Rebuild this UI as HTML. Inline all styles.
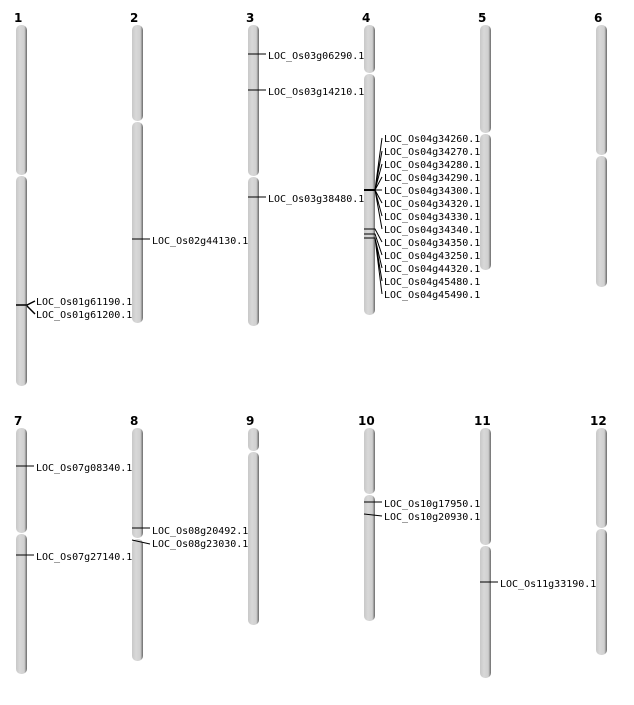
<!DOCTYPE html>
<html><head><meta charset="utf-8"><style>
html,body{margin:0;padding:0;background:#fff;}
svg text{font-family:"DejaVu Sans Mono","Liberation Mono",monospace;font-size:10px;fill:#000;}
svg text.h{font-family:"DejaVu Sans","Liberation Sans",sans-serif;font-weight:bold;font-size:12px;}
</style></head><body>
<svg width="634" height="700" xmlns="http://www.w3.org/2000/svg">
<defs>
<linearGradient id="g" x1="0" x2="1" y1="0" y2="0">
<stop offset="0" stop-color="#c8c8c8"/><stop offset="0.35" stop-color="#d8d8d8"/><stop offset="0.75" stop-color="#d0d0d0"/><stop offset="1" stop-color="#6a6a6a"/>
</linearGradient>
</defs>
<g fill="url(#g)">
<!-- row 1 -->
<rect x="16" y="25" width="11" height="150" rx="5"/><rect x="16" y="176" width="11" height="210" rx="5"/>
<rect x="132" y="25" width="11" height="96" rx="5"/><rect x="132" y="122" width="11" height="201" rx="5"/>
<rect x="248" y="25" width="11" height="151" rx="5"/><rect x="248" y="177" width="11" height="149" rx="5"/>
<rect x="364" y="25" width="11" height="48" rx="5"/><rect x="364" y="74" width="11" height="241" rx="5"/>
<rect x="480" y="25" width="11" height="108" rx="5"/><rect x="480" y="134" width="11" height="136" rx="5"/>
<rect x="596" y="25" width="11" height="130" rx="5"/><rect x="596" y="156" width="11" height="131" rx="5"/>
<!-- row 2 -->
<rect x="16" y="428" width="11" height="105" rx="5"/><rect x="16" y="534" width="11" height="140" rx="5"/>
<rect x="132" y="428" width="11" height="110" rx="5"/><rect x="132" y="539" width="11" height="122" rx="5"/>
<rect x="248" y="428" width="11" height="23" rx="5"/><rect x="248" y="452" width="11" height="173" rx="5"/>
<rect x="364" y="428" width="11" height="66" rx="5"/><rect x="364" y="495" width="11" height="126" rx="5"/>
<rect x="480" y="428" width="11" height="117" rx="5"/><rect x="480" y="546" width="11" height="132" rx="5"/>
<rect x="596" y="428" width="11" height="100" rx="5"/><rect x="596" y="529" width="11" height="126" rx="5"/>
</g>
<text class="h" x="14" y="22">1</text><text class="h" x="130" y="22">2</text><text class="h" x="246" y="22">3</text><text class="h" x="362" y="22">4</text><text class="h" x="478" y="22">5</text><text class="h" x="594" y="22">6</text>
<text class="h" x="14" y="425">7</text><text class="h" x="130" y="425">8</text><text class="h" x="246" y="425">9</text><text class="h" x="358" y="425">10</text><text class="h" x="474" y="425">11</text><text class="h" x="590" y="425">12</text>
<g stroke="#000" stroke-width="1" fill="none">
<path d="M16 305H27L35 301M27 306L35 314" stroke-width="1.5"/>
<path d="M132 239H150"/>
<path d="M248 54H266M248 90H266M248 197H266"/>
<path d="M364 190H375" stroke-width="2"/>
<path d="M375 190L382 138M375 190L382 151M375 190L382 164M375 190L382 177M375 190L382 190M375 190L382 203M375 190L382 216M375 190L382 229"/>
<path d="M364 229H375L382 242M364 234H375L382 255M364 238H375L382 268M375 238L382 281M375 238L382 294"/>
<path d="M16 466H34M16 555H34"/>
<path d="M132 528H150M132 540L150 544"/>
<path d="M364 502H382M364 514L382 516"/>
<path d="M480 582H498"/>
</g>
<g>
<text x="36" y="305">LOC_Os01g61190.1</text><text x="36" y="318">LOC_Os01g61200.1</text>
<text x="152" y="244">LOC_Os02g44130.1</text>
<text x="268" y="59">LOC_Os03g06290.1</text><text x="268" y="95">LOC_Os03g14210.1</text><text x="268" y="202">LOC_Os03g38480.1</text>
<text x="384" y="142">LOC_Os04g34260.1</text><text x="384" y="155">LOC_Os04g34270.1</text><text x="384" y="168">LOC_Os04g34280.1</text><text x="384" y="181">LOC_Os04g34290.1</text><text x="384" y="194">LOC_Os04g34300.1</text><text x="384" y="207">LOC_Os04g34320.1</text><text x="384" y="220">LOC_Os04g34330.1</text><text x="384" y="233">LOC_Os04g34340.1</text><text x="384" y="246">LOC_Os04g34350.1</text><text x="384" y="259">LOC_Os04g43250.1</text><text x="384" y="272">LOC_Os04g44320.1</text><text x="384" y="285">LOC_Os04g45480.1</text><text x="384" y="298">LOC_Os04g45490.1</text>
<text x="36" y="471">LOC_Os07g08340.1</text><text x="36" y="560">LOC_Os07g27140.1</text>
<text x="152" y="534">LOC_Os08g20492.1</text><text x="152" y="547">LOC_Os08g23030.1</text>
<text x="384" y="507">LOC_Os10g17950.1</text><text x="384" y="520">LOC_Os10g20930.1</text>
<text x="500" y="587">LOC_Os11g33190.1</text>
</g>
</svg>
</body></html>
